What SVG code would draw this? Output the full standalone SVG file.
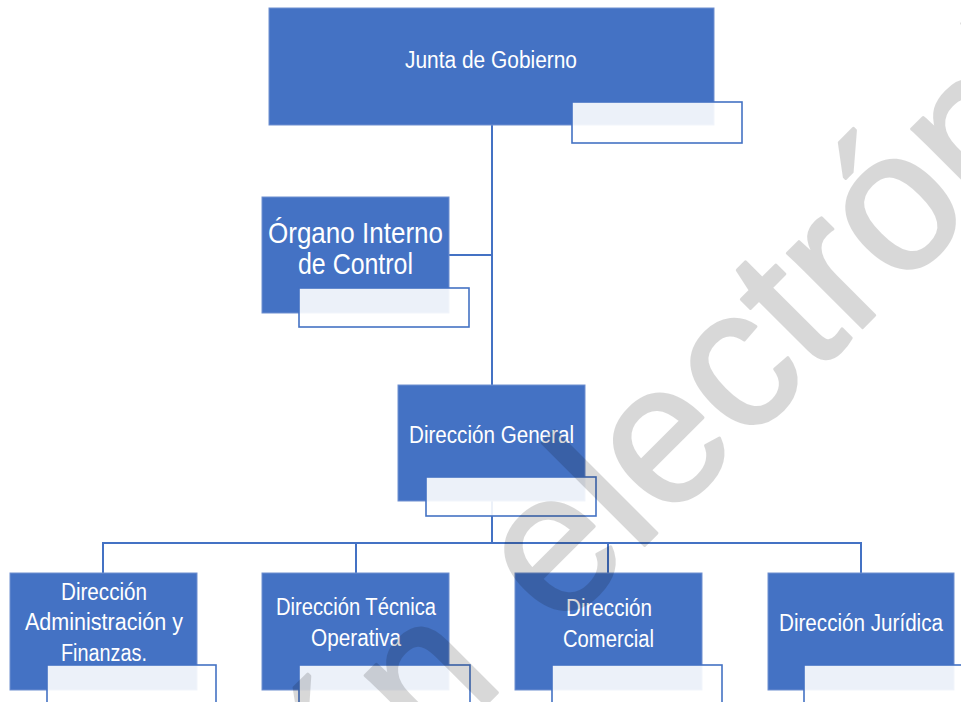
<svg xmlns="http://www.w3.org/2000/svg" width="961" height="702" viewBox="0 0 961 702">
<style>
.box{fill:#4472C4;stroke:#6F8FD0;stroke-width:1}
.sub{fill:#FFFFFF;fill-opacity:0.9;stroke:#4472C4;stroke-width:1.6}
.lbl{font-family:"Liberation Sans",Arial,sans-serif;fill:#FFFFFF;text-anchor:middle}
.con{fill:none;stroke:#4472C4;stroke-width:2}
.wm{font-family:"Liberation Sans",Arial,sans-serif;font-size:200px;fill:#000000;stroke:#000000;stroke-width:3;stroke-linejoin:round}
</style>
<rect width="961" height="702" fill="#FFFFFF"/>
<g id="connectors">
<path class="con" d="M492,125 V385"/>
<path class="con" d="M492,255 H449"/>
<path class="con" d="M492,501 V543"/>
<path class="con" d="M103,573 V543 H861 V573"/>
<path class="con" d="M356,543 V573"/>
<path class="con" d="M608,543 V573"/>
</g>
<g id="junta">
<rect class="box" x="269" y="8" width="445" height="117"/>
<rect class="sub" x="572" y="102" width="170" height="41"/>
<text class="lbl" x="491" y="67.5" font-size="23" textLength="172" lengthAdjust="spacingAndGlyphs">Junta de Gobierno</text>
</g>
<g id="organo">
<rect class="box" x="262" y="197" width="187" height="116"/>
<rect class="sub" x="299" y="288" width="170" height="39"/>
<text class="lbl" x="355.5" y="243" font-size="29" textLength="175" lengthAdjust="spacingAndGlyphs">Órgano Interno</text>
<text class="lbl" x="355.5" y="274" font-size="29" textLength="115" lengthAdjust="spacingAndGlyphs">de Control</text>
</g>
<g id="direccion-general">
<rect class="box" x="398" y="385" width="187" height="116"/>
<rect class="sub" x="426" y="477" width="170" height="39"/>
<text class="lbl" x="491.5" y="443" font-size="23" textLength="165" lengthAdjust="spacingAndGlyphs">Dirección General</text>
</g>
<g id="dir-admin">
<rect class="box" x="10" y="573" width="187" height="117"/>
<rect class="sub" x="47" y="665" width="169" height="45"/>
<text class="lbl" x="104" y="600" font-size="23" textLength="86" lengthAdjust="spacingAndGlyphs">Dirección</text>
<text class="lbl" x="104" y="630" font-size="23" textLength="158" lengthAdjust="spacingAndGlyphs">Administración y</text>
<text class="lbl" x="104" y="661" font-size="23" textLength="86" lengthAdjust="spacingAndGlyphs">Finanzas.</text>
</g>
<g id="dir-tecnica">
<rect class="box" x="262" y="573" width="187" height="117"/>
<rect class="sub" x="299" y="665" width="171" height="45"/>
<text class="lbl" x="356" y="615" font-size="23" textLength="160" lengthAdjust="spacingAndGlyphs">Dirección Técnica</text>
<text class="lbl" x="356" y="646" font-size="23" textLength="90" lengthAdjust="spacingAndGlyphs">Operativa</text>
</g>
<g id="dir-comercial">
<rect class="box" x="515" y="573" width="187" height="117"/>
<rect class="sub" x="552" y="665" width="170" height="45"/>
<text class="lbl" x="609" y="616" font-size="23" textLength="86" lengthAdjust="spacingAndGlyphs">Dirección</text>
<text class="lbl" x="608.5" y="647" font-size="23" textLength="91" lengthAdjust="spacingAndGlyphs">Comercial</text>
</g>
<g id="dir-juridica">
<rect class="box" x="768" y="573" width="186" height="117"/>
<rect class="sub" x="804" y="665" width="170" height="45"/>
<text class="lbl" x="861" y="631" font-size="23" textLength="164" lengthAdjust="spacingAndGlyphs">Dirección Jurídica</text>
</g>
<g id="watermark" opacity="0.15" transform="rotate(-45)">
<text class="wm" x="-339" y="841.5" textLength="213.5" lengthAdjust="spacingAndGlyphs">ón</text>
<text class="wm" x="-53" y="841.5" textLength="747" lengthAdjust="spacingAndGlyphs">electróni</text>
</g>
</svg>
